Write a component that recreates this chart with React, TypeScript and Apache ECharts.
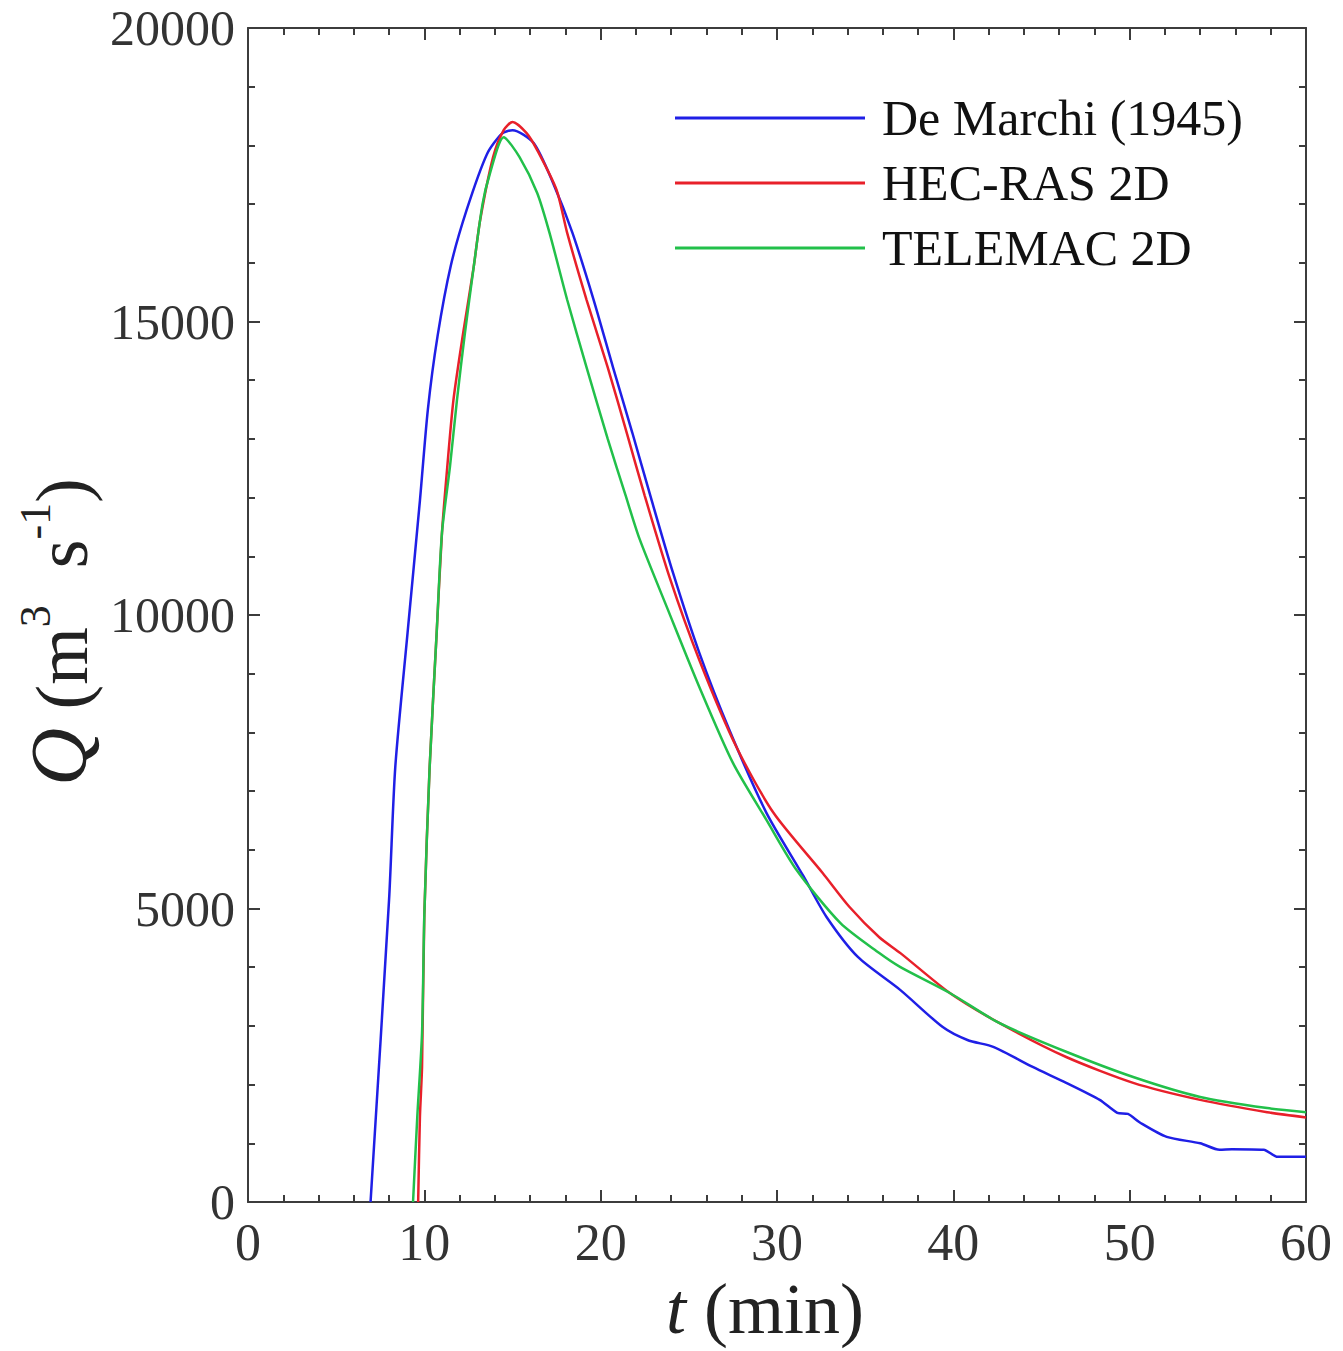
import React, { useEffect, useRef } from "react";
import * as echarts from "echarts";

const seriesNames = ["De Marchi (1945)", "HEC-RAS 2D", "TELEMAC 2D"];
const seriesColors = ["#1f1fe6", "#e8202a", "#22c04a"];

// [t (min), Q (m3/s)]
const deMarchi: [number, number][] = [
  [6.95, 0], [8.0, 5150], [8.35, 7400], [9.05, 9700], [9.75, 11950], [10.2, 13500],
  [10.75, 14750], [11.5, 15950], [12.4, 16900], [13.55, 17850], [14.4, 18200], [15.0, 18260],
  [16.2, 18040], [17.3, 17360], [18.4, 16510], [19.6, 15370], [20.7, 14220], [21.8, 13100],
  [22.8, 12050], [24.1, 10720], [25.6, 9350], [27.3, 8040], [29.4, 6630], [31.5, 5550],
  [32.8, 4860], [34.6, 4170], [37.0, 3610], [39.4, 2980], [40.8, 2760], [42.3, 2640],
  [44.5, 2300], [46.4, 2030], [48.3, 1740], [49.3, 1520], [49.9, 1500], [50.6, 1350],
  [52.1, 1110], [54.0, 1000], [55.1, 890], [55.8, 900], [57.6, 890], [58.4, 770], [60, 770],
];

const hecRas: [number, number][] = [
  [9.65, 0], [9.75, 1450], [9.87, 2300], [10.0, 4900], [10.3, 7400], [10.7, 9700],
  [11.0, 11400], [11.3, 12520], [11.65, 13660], [12.2, 14800], [12.8, 15930], [13.15, 16700],
  [13.9, 17800], [14.5, 18260], [15.0, 18400], [15.8, 18210], [16.4, 17920], [17.5, 17240],
  [18.1, 16510], [19.2, 15370], [20.4, 14220], [21.5, 13080], [22.5, 12030], [23.9, 10650],
  [25.6, 9230], [27.7, 7750], [29.8, 6630], [32.6, 5600], [34.1, 5030], [35.8, 4510],
  [37.0, 4240], [39.8, 3560], [42.6, 3050], [46.4, 2470], [50.2, 2030], [54.0, 1740],
  [57.8, 1530], [60, 1440],
];

const telemac: [number, number][] = [
  [9.36, 0], [9.6, 1450], [9.87, 2880], [10.0, 4900], [10.3, 7400], [10.7, 9700],
  [11.0, 11400], [11.45, 12520], [11.85, 13660], [12.3, 14800], [12.8, 15930], [13.3, 17000],
  [13.7, 17500], [14.5, 18140], [15.4, 17800], [16.4, 17190], [17.1, 16510], [18.1, 15370],
  [19.2, 14220], [20.4, 13000], [21.4, 12050], [22.2, 11300], [23.8, 10100], [25.6, 8770],
  [27.5, 7480], [29.4, 6510], [31.1, 5660], [33.6, 4750], [35.8, 4240], [37.0, 4000],
  [39.8, 3560], [42.6, 3050], [46.4, 2560], [50.2, 2130], [54.0, 1790], [57.8, 1600],
  [60, 1530],
];

const xMin = 0, xMax = 60, xStep = 10;
const yMin = 0, yMax = 20000, yStep = 5000;

const FONT = "Liberation Serif";
const AXIS_COLOR = "#3c3c3c";

export default function App() {
  const ref = useRef<HTMLDivElement>(null);
  useEffect(() => {
    document.body.style.margin = "0";
    const chart = echarts.init(ref.current!, undefined, { renderer: "svg" });

    const tickCommon = {
      axisLine: { show: true, onZero: false, lineStyle: { color: AXIS_COLOR, width: 2 } },
      axisTick: { show: true, inside: true, length: 12, lineStyle: { color: AXIS_COLOR, width: 2 } },
      minorTick: { show: true, splitNumber: 5, length: 7, lineStyle: { color: AXIS_COLOR, width: 2 } },
      splitLine: { show: false },
      minorSplitLine: { show: false },
    };

    const data = [deMarchi, hecRas, telemac];
    const plain = (v: number) => String(v);

    chart.setOption({
      animation: false,
      backgroundColor: "#ffffff",
      grid: { left: 248, top: 28, width: 1058, height: 1174, containLabel: false },
      legend: {
        orient: "vertical",
        left: 670,
        top: 88,
        itemWidth: 190,
        itemHeight: 3,
        itemGap: 15,
        icon: "rect",
        data: seriesNames,
        textStyle: { fontFamily: FONT, fontSize: 50, color: "#111", padding: [0, 0, 0, 12] },
      },
      xAxis: [
        {
          type: "value",
          min: xMin,
          max: xMax,
          interval: xStep,
          position: "bottom",
          ...tickCommon,
          axisLabel: { fontFamily: FONT, fontSize: 52, color: "#333", margin: 14, formatter: plain },
          name: "{it|t} (min)",
          nameLocation: "middle",
          nameGap: 60,
          nameTextStyle: {
            fontFamily: FONT,
            fontSize: 72,
            color: "#222",
            padding: [0, 24, 0, 0],
            rich: { it: { fontFamily: FONT, fontSize: 72, fontStyle: "italic", color: "#222" } },
          },
        },
        {
          type: "value",
          min: xMin,
          max: xMax,
          interval: xStep,
          position: "top",
          ...tickCommon,
          axisLabel: { show: false },
        },
      ],
      yAxis: [
        {
          type: "value",
          min: yMin,
          max: yMax,
          interval: yStep,
          position: "left",
          ...tickCommon,
          axisLabel: { fontFamily: FONT, fontSize: 50, color: "#333", margin: 13, formatter: plain },
          name: "{q|Q}{n| (m}{s|3}{n|  s}{s|-1}{n|)}",
          nameLocation: "middle",
          nameRotate: 90,
          nameGap: 138,
          nameTextStyle: {
            fontFamily: FONT,
            fontSize: 74,
            color: "#222",
            padding: [0, 34, 0, 0],
            rich: {
              q: { fontFamily: FONT, fontSize: 80, fontStyle: "italic", color: "#222", lineHeight: 86, verticalAlign: "bottom" },
              n: { fontFamily: FONT, fontSize: 74, color: "#222", lineHeight: 86, verticalAlign: "bottom" },
              s: { fontFamily: FONT, fontSize: 44, color: "#222", verticalAlign: "top" },
            },
          },
        },
        {
          type: "value",
          min: yMin,
          max: yMax,
          interval: yStep,
          position: "right",
          ...tickCommon,
          axisLabel: { show: false },
        },
      ],
      series: seriesNames.map((name, i) => ({
        name,
        type: "line",
        xAxisIndex: 0,
        yAxisIndex: 0,
        data: data[i],
        showSymbol: false,
        smooth: 0.25,
        clip: true,
        lineStyle: { color: seriesColors[i], width: 2.5 },
        itemStyle: { color: seriesColors[i] },
      })),
    });
    return () => chart.dispose();
  }, []);
  return <div ref={ref} style={{ width: 1343, height: 1351 }} />;
}
